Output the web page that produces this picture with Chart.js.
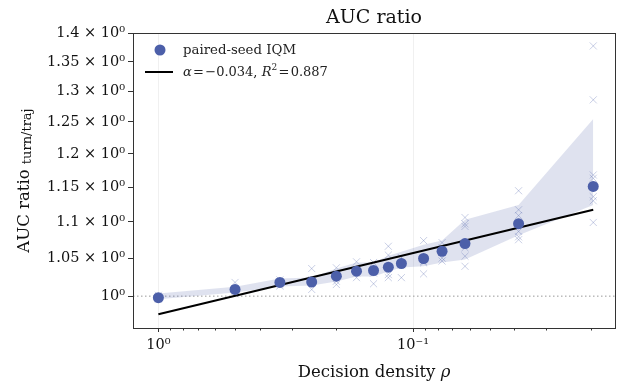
<!DOCTYPE html>
<html>
<head>
<meta charset="utf-8">
<script src="https://cdn.jsdelivr.net/npm/chart.js@4.4.1/dist/chart.umd.min.js"></script>
<style>
  html, body { margin: 0; padding: 0; background: #fff; }
  canvas { display: block; }
</style>
</head>
<body>
<canvas id="aucChart" width="621" height="388"></canvas>
<script>
// decision density per setting (x) and the paired-seed IQM (y)
const rho = [1, 0.5, 0.3333, 0.25, 0.2, 0.1667, 0.1429, 0.125, 0.1111, 0.0909, 0.0769, 0.0625, 0.0385, 0.0196];
const iqm = [0.998, 1.0086, 1.0177, 1.0183, 1.0259, 1.0325, 1.0334, 1.0378, 1.0427, 1.0494, 1.0592, 1.0697, 1.0973, 1.151];
// shaded interval
const bandLow  = [0.996, 1.0047, 1.0125, 1.0138, 1.019, 1.0255, 1.0255, 1.032, 1.0374, 1.039, 1.044, 1.048, 1.081, 1.124];
const bandHigh = [1.0035, 1.012, 1.0229, 1.0242, 1.036, 1.044, 1.044, 1.053, 1.0587, 1.068, 1.074, 1.103, 1.124, 1.255];
// individual seeds (light crosses), one list per rho
const seeds = [
    [0.996, 0.998, 1.001],
    [1.0177, 1.009, 1.006, 1.003],
    [1.021, 1.018, 1.015, 1.013],
    [1.036, 1.0216, 1.0177, 1.0086],
    [1.037, 1.0193, 1.015, 1.028],
    [1.045, 1.030, 1.024],
    [1.044, 1.016, 1.030],
    [1.066, 1.024, 1.054, 1.028],
    [1.024, 1.041, 1.0506],
    [1.0738, 1.029, 1.0436, 1.0454],
    [1.046, 1.071, 1.050, 1.064],
    [1.106, 1.0935, 1.097, 1.0525, 1.039, 1.064],
    [1.1446, 1.117, 1.1088, 1.079, 1.0865, 1.075],
    [1.378, 1.286, 1.168, 1.163, 1.136, 1.130, 1.099]
];
// power-law fit end points
const fitRho = [1, 0.0196];
const fitVal = [0.977, 1.117];

const xTicks = [1, 0.9, 0.8, 0.7, 0.6, 0.5, 0.4, 0.3, 0.2, 0.1, 0.09, 0.08, 0.07, 0.06, 0.05, 0.04, 0.03, 0.02];
const xMajor = [1, 0.1];
const xMajorLabels = ['10\u2070', '10\u207B\u00B9'];
const yTicks = [1, 1.05, 1.1, 1.15, 1.2, 1.25, 1.3, 1.35, 1.4];

const SERIF = '"DejaVu Serif", serif';
const BLUE = '#4c5fa9';

//////////////////////////////////////////////
// Datasets
//////////////////////////////////////////////
const seedPoints = [];
seeds.forEach((list, i) => {
    list.forEach(v => seedPoints.push({ x: rho[i], y: v }));
});

const datasets = [
    {
        label: 'paired-seed IQM',
        data: rho.map((r, i) => ({ x: r, y: iqm[i] })),
        showLine: false,
        pointRadius: 5.5,
        pointBackgroundColor: BLUE,
        pointBorderColor: BLUE,
        pointBorderWidth: 0
    },
    {
        label: 'fit',
        data: fitRho.map((r, i) => ({ x: r, y: fitVal[i] })),
        borderColor: '#000',
        borderWidth: 2,
        pointRadius: 0,
        fill: false
    },
    {
        label: 'seeds',
        data: seedPoints,
        showLine: false,
        pointStyle: 'crossRot',
        pointRadius: 5,
        pointBorderColor: 'rgba(76,95,169,0.3)',
        pointBorderWidth: 1
    },
    {
        label: 'band low',
        data: rho.map((r, i) => ({ x: r, y: bandLow[i] })),
        borderWidth: 0,
        pointRadius: 0,
        fill: false
    },
    {
        label: 'band high',
        data: rho.map((r, i) => ({ x: r, y: bandHigh[i] })),
        borderWidth: 0,
        pointRadius: 0,
        backgroundColor: 'rgba(76,95,169,0.18)',
        fill: '-1'
    }
];

//////////////////////////////////////////////
// Extra drawing: title, axis titles, legend, frame
//////////////////////////////////////////////
const decorPlugin = {
    id: 'decor',
    beforeDatasetsDraw(chart) {
        const { ctx, chartArea, scales } = chart;
        const y1 = scales.y.getPixelForValue(1);
        ctx.save();
        ctx.strokeStyle = '#999';
        ctx.lineWidth = 1;
        ctx.setLineDash([1.5, 2.5]);
        ctx.beginPath();
        ctx.moveTo(chartArea.left, y1);
        ctx.lineTo(chartArea.right, y1);
        ctx.stroke();
        ctx.restore();
    },
    afterDraw(chart) {
        const { ctx, chartArea, scales } = chart;
        const a = chartArea;
        ctx.save();

        // minor x ticks
        ctx.strokeStyle = '#333';
        ctx.lineWidth = 1;
        xTicks.forEach(v => {
            if (xMajor.includes(v)) return;
            const px = Math.round(scales.x.getPixelForValue(v)) + 0.5;
            ctx.beginPath();
            ctx.moveTo(px, a.bottom);
            ctx.lineTo(px, a.bottom + 2.5);
            ctx.stroke();
        });

        // frame
        ctx.strokeStyle = '#333';
        ctx.strokeRect(Math.round(a.left) + 0.5, Math.round(a.top) + 0.5,
            Math.round(a.right - a.left), Math.round(a.bottom - a.top));

        // title
        ctx.fillStyle = '#111';
        ctx.textAlign = 'center';
        ctx.textBaseline = 'alphabetic';
        ctx.font = '19px ' + SERIF;
        ctx.fillText('AUC ratio', (a.left + a.right) / 2, 23);

        // x title
        ctx.textAlign = 'left';
        const xt1 = 'Decision density ';
        ctx.font = '16.5px ' + SERIF;
        const w1 = ctx.measureText(xt1).width;
        ctx.font = 'italic 16.5px ' + SERIF;
        const w2 = ctx.measureText('\u03C1').width;
        const sx = (a.left + a.right) / 2 - (w1 + w2) / 2;
        ctx.font = '16.5px ' + SERIF;
        ctx.fillText(xt1, sx, 377);
        ctx.font = 'italic 16.5px ' + SERIF;
        ctx.fillText('\u03C1', sx + w1, 377);

        // y title (rotated)
        ctx.save();
        ctx.translate(29, (a.top + a.bottom) / 2);
        ctx.rotate(-Math.PI / 2);
        ctx.font = '16.5px ' + SERIF;
        const m1 = 'AUC ratio ';
        const mw1 = ctx.measureText(m1).width;
        ctx.font = '13px ' + SERIF;
        const mw2 = ctx.measureText('turn/traj').width;
        const sy = -(mw1 + mw2) / 2;
        ctx.font = '16.5px ' + SERIF;
        ctx.fillText(m1, sy, 0);
        ctx.font = '13px ' + SERIF;
        ctx.fillText('turn/traj', sy + mw1, 1.5);
        ctx.restore();

        // legend
        ctx.fillStyle = BLUE;
        ctx.beginPath();
        ctx.arc(160, 50, 5.5, 0, Math.PI * 2);
        ctx.fill();
        ctx.strokeStyle = '#000';
        ctx.lineWidth = 2;
        ctx.beginPath();
        ctx.moveTo(145, 72);
        ctx.lineTo(173, 72);
        ctx.stroke();

        ctx.fillStyle = '#222';
        ctx.textBaseline = 'middle';
        ctx.font = '13.3px ' + SERIF;
        ctx.fillText('paired-seed IQM', 183, 51);

        // fit label with italic symbols
        const parts = [
            ['italic 13px ' + SERIF, '\u03B1', 0],
            ['13px ' + SERIF, '\u200A=\u200A\u22120.034, ', 0],
            ['italic 13px ' + SERIF, 'R', 0],
            ['9px ' + SERIF, '2', -5],
            ['13px ' + SERIF, '\u200A=\u200A0.887', 0]
        ];
        let lx = 183;
        parts.forEach(p => {
            ctx.font = p[0];
            ctx.fillText(p[1], lx, 73 + p[2]);
            lx += ctx.measureText(p[1]).width;
        });

        ctx.restore();
    }
};

//////////////////////////////////////////////
// Chart
//////////////////////////////////////////////
const chart = new Chart(document.getElementById('aucChart').getContext('2d'), {
    type: 'line',
    data: { datasets: datasets },
    options: {
        responsive: false,
        animation: false,
        devicePixelRatio: 1,
        layout: { padding: { left: 0, right: 6, top: 33, bottom: 0 } },
        plugins: {
            legend: { display: false },
            tooltip: { enabled: false },
            title: { display: false }
        },
        elements: { line: { tension: 0 } },
        scales: {
            x: {
                type: 'logarithmic',
                reverse: true,
                min: 0.0161,
                max: 1.258,
                afterFit: scale => { scale.height = 60; },
                afterBuildTicks: scale => {
                    scale.ticks = xTicks.map(v => ({ value: v, major: xMajor.includes(v) }));
                },
                border: { display: false },
                grid: {
                    tickLength: 4,
                    color: ctx => (ctx.tick && ctx.tick.major) ? 'rgba(0,0,0,0.06)' : 'rgba(0,0,0,0)',
                    tickColor: ctx => (ctx.tick && ctx.tick.major) ? '#333' : 'rgba(0,0,0,0)'
                },
                ticks: {
                    autoSkip: false,
                    maxRotation: 0,
                    padding: 5,
                    color: '#111',
                    font: { family: SERIF, size: 14.5 },
                    callback: v => {
                        const k = xMajor.indexOf(v);
                        return k >= 0 ? xMajorLabels[k] : '';
                    }
                }
            },
            y: {
                type: 'logarithmic',
                min: 0.9617,
                max: 1.401,
                afterFit: scale => { scale.width = 133; },
                afterBuildTicks: scale => {
                    scale.ticks = yTicks.map(v => ({ value: v }));
                },
                border: { display: false },
                grid: {
                    drawOnChartArea: false,
                    tickLength: 5,
                    tickColor: '#333'
                },
                ticks: {
                    padding: 3,
                    color: '#111',
                    font: { family: SERIF, size: 14.5 },
                    callback: v => v === 1 ? '10\u2070' : v + ' \u00D7 10\u2070'
                }
            }
        }
    },
    plugins: [decorPlugin]
});
</script>
</body>
</html>
